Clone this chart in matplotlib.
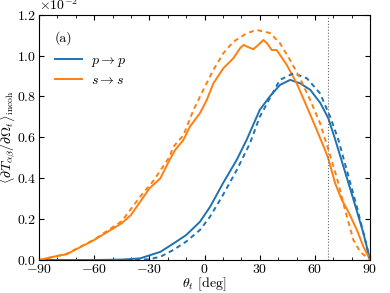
import matplotlib
matplotlib.use("Agg")
import matplotlib.pyplot as plt
from matplotlib.ticker import MultipleLocator, ScalarFormatter

plt.rcParams['font.family'] = 'serif'
plt.rcParams['font.serif'] = ['cmr10', 'DejaVu Serif']
plt.rcParams['mathtext.fontset'] = 'cm'
plt.rcParams['axes.formatter.use_mathtext'] = True
plt.rcParams['axes.unicode_minus'] = True

# p -> p (values in units of 1e-2)
pp_deg = [-90, -60, -45, -35, -24, -17, -10, -2.5, 3, 10, 17.5, 23, 30, 35.5, 41, 46.5, 52, 57.5, 63, 67.3, 71, 75.5, 81, 86.4, 90]
pp_val = [0.0, 0.0, 0.002, 0.008, 0.04, 0.08, 0.122, 0.187, 0.26, 0.375, 0.49, 0.59, 0.734, 0.80, 0.856, 0.881, 0.864, 0.832, 0.767, 0.693, 0.59, 0.457, 0.294, 0.13, 0.0]
pp_sim_deg = [-90, -60, -40, -30, -24, -17, -10, -2.5, 3, 10, 17.5, 24.7, 30, 36, 41, 48.3, 55.6, 62.8, 68.3, 72.8, 77.3, 82.8, 87.3, 90]
pp_sim_val = [0.0, 0.0, 0.0, 0.004, 0.016, 0.049, 0.09, 0.147, 0.212, 0.318, 0.44, 0.571, 0.70, 0.80, 0.881, 0.913, 0.889, 0.815, 0.70, 0.587, 0.44, 0.26, 0.098, 0.0]

# s -> s
ss_deg = [-90, -80, -75, -60, -45, -40, -35, -30, -24, -19, -16, -11.5, -8, -2.5, 1.2, 4.8, 10.2, 15.7, 19.3, 21.3, 23, 26.5, 29, 32, 34, 36.5, 39.2, 44.7, 50.1, 55.6, 61, 65.5, 67.3, 71, 74.6, 78.2, 82.8, 86.4, 90]
ss_val = [0.0, 0.02, 0.028, 0.098, 0.18, 0.22, 0.285, 0.35, 0.40, 0.49, 0.538, 0.587, 0.652, 0.718, 0.783, 0.864, 0.938, 0.987, 1.036, 1.052, 1.044, 1.031, 1.05, 1.076, 1.06, 1.027, 1.027, 0.954, 0.864, 0.75, 0.636, 0.538, 0.495, 0.375, 0.294, 0.236, 0.147, 0.065, 0.0]
ss_sim_deg = [-90, -80, -75, -60, -45, -35, -28, -19, -17, -11.5, -6, -0.7, 4.8, 10.2, 15.7, 22.9, 28.4, 35.6, 41, 46.5, 51.9, 57.4, 62.8, 67.3, 72, 76.4, 80.9, 84.6, 90]
ss_sim_val = [0.0, 0.02, 0.03, 0.10, 0.19, 0.31, 0.385, 0.505, 0.554, 0.61, 0.734, 0.832, 0.93, 1.011, 1.068, 1.109, 1.125, 1.11, 1.06, 0.978, 0.889, 0.783, 0.669, 0.54, 0.40, 0.245, 0.098, 0.04, 0.0]

theta_c = 67.3

blue = '#1f72b0'
orange = '#ff7f0e'
fs = 10

fig = plt.figure(figsize=(3.9, 2.93), dpi=100)
ax = fig.add_axes([0.1, 0.1126, 0.849, 0.8374])

ax.plot(pp_deg, [v * 1e-2 for v in pp_val], color=blue, lw=1.4, label=r'$p\to p$')
ax.plot(ss_deg, [v * 1e-2 for v in ss_val], color=orange, lw=1.4, label=r'$s\to s$')
ax.plot(pp_sim_deg, [v * 1e-2 for v in pp_sim_val], color=blue, lw=1.4, ls=(0, (2.5, 2)))
ax.plot(ss_sim_deg, [v * 1e-2 for v in ss_sim_val], color=orange, lw=1.4, ls=(0, (2.5, 2)))
ax.axvline(theta_c, color='0.4', lw=0.8, ls=':')

ax.set_xlim(-90, 90)
ax.set_ylim(0, 0.012)
ax.xaxis.set_major_locator(MultipleLocator(30))
ax.xaxis.set_minor_locator(MultipleLocator(10))
ax.yaxis.set_major_locator(MultipleLocator(0.002))
fmt = ScalarFormatter(useMathText=True)
fmt.set_powerlimits((-2, -2))
ax.yaxis.set_major_formatter(fmt)
ax.tick_params(which='both', direction='in', top=True, right=True, labelsize=fs, pad=2)
ax.tick_params(which='major', length=3.5)
ax.tick_params(which='minor', length=2.5)
ax.yaxis.get_offset_text().set_fontsize(fs)

ax.set_xlabel(r'$\theta_t$ [deg]', fontsize=fs, labelpad=0)
ax.set_ylabel(r'$\langle\partial T_{\alpha\beta}/\partial\Omega_t\rangle_{\rm incoh}$', fontsize=fs)
ax.yaxis.set_label_coords(-0.062, 0.5)

ax.text(0.048, 0.905, '(a)', transform=ax.transAxes, fontsize=fs, va='center')
ax.legend(loc='upper left', bbox_to_anchor=(0.032, 0.862), borderaxespad=0, frameon=False,
          fontsize=fs, handlelength=1.9, handletextpad=0.65, labelspacing=0.4)

fig.savefig('out.png', dpi=100)
